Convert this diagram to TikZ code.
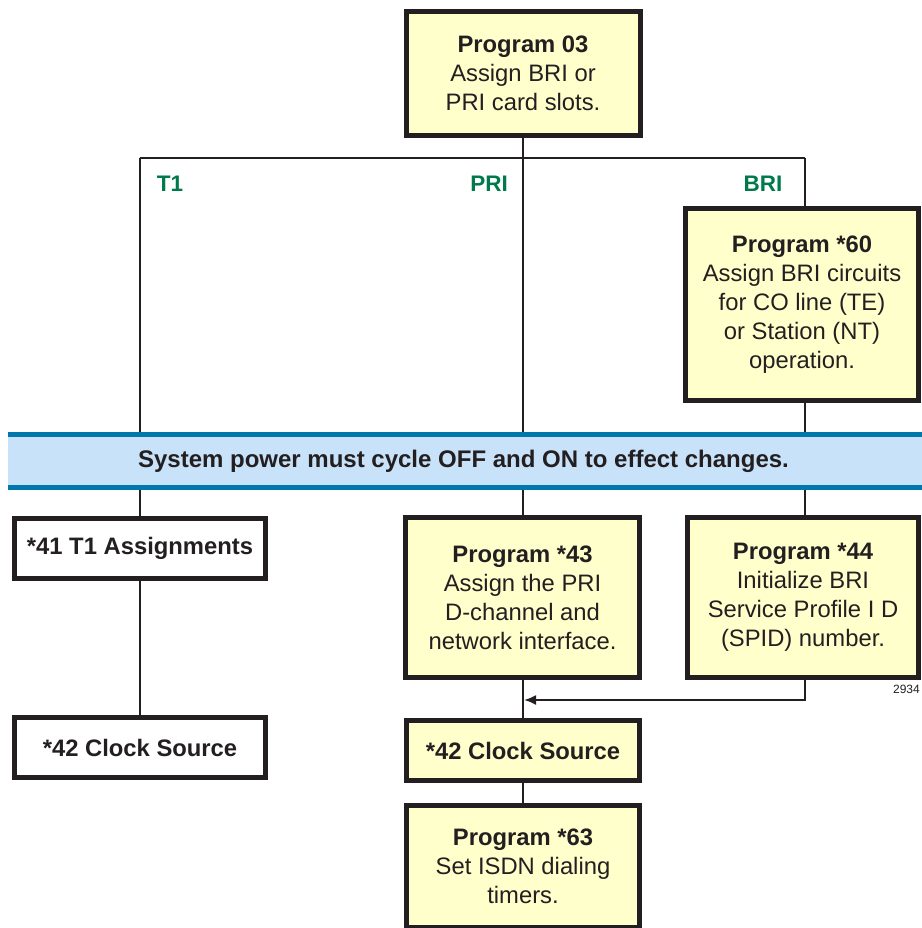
\documentclass[tikz,border=0pt]{standalone}
\usepackage{fontspec}
\setmainfont{Liberation Sans}
\usetikzlibrary{arrows.meta}
\definecolor{boxfill}{HTML}{FFFFCC}
\definecolor{ink}{HTML}{231F20}
\definecolor{lblgreen}{HTML}{007A4D}
\definecolor{bandfill}{HTML}{C8E2FA}
\definecolor{bandline}{HTML}{0078AE}
\begin{document}
\begin{tikzpicture}[x=1pt,y=-1pt,
  prog/.style={draw=ink,line width=5pt,fill=boxfill,align=center,inner sep=0pt,
    text=ink,font=\fontsize{23.8}{29}\selectfont},
  plain/.style={prog,fill=white,line width=4.5pt},
  conn/.style={draw=ink,line width=2pt},
  lbl/.style={text=lblgreen,font=\fontsize{22.5}{26}\selectfont\bfseries},
  stripe/.style={draw=bandline,line width=5pt}]
\useasboundingbox (0,0) rectangle (921,928);
% boxes
\node[prog,minimum width=234pt,minimum height=124pt] (p03) at (523,73.5)
  {\textbf{Program 03}\\Assign BRI or\\PRI card slots.};
\node[prog,minimum width=233pt,minimum height=192pt] (p60) at (802,304.5)
  {\textbf{Program *60}\\Assign BRI circuits\\for CO line (TE)\\or Station (NT)\\operation.};
\node[plain,minimum width=251pt,minimum height=60pt] (p41) at (140,548.5)
  {\textbf{*41 T1 Assignments}};
\node[plain,minimum width=251pt,minimum height=60pt] (p42l) at (140,747.5)
  {\textbf{*42 Clock Source}};
\node[prog,minimum width=234pt,minimum height=160pt] (p43) at (522.5,597.5)
  {\textbf{Program *43}\\Assign the PRI\\D-channel and\\network interface.};
\node[prog,minimum width=231pt,minimum height=160pt] (p44) at (803,597.5)
  {\textbf{Program *44}\\Initialize BRI\\Service Profile I D\\(SPID) number.};
\node[prog,minimum width=233pt,minimum height=60pt] (p42p) at (523,750.5)
  {\textbf{*42 Clock Source}};
\node[prog,minimum width=233pt,minimum height=122pt] (p63) at (523,866)
  {\textbf{Program *63}\\Set ISDN dialing\\timers.};
% band
\node[fill=bandfill,minimum width=922pt,minimum height=58pt,inner sep=0pt,
  text=ink,font=\fontsize{24}{28}\selectfont\bfseries] (band) at (469,461)
  {\hspace*{-11pt}System power must cycle OFF and ON to effect changes.};
\draw[stripe] ([yshift=-2.5pt]band.north west) -- ([yshift=-2.5pt]band.north east);
\draw[stripe] ([yshift=2.5pt]band.south west) -- ([yshift=2.5pt]band.south east);
% coordinates
\coordinate (tl) at (140,158);
\coordinate (tp) at (523,158);
\coordinate (tr) at (805,158);
\coordinate (mid) at (523,700);
\coordinate (brk) at (805,700);
% connectors
\draw[conn] (p03.south) -- (tp);
\draw[conn] (tl) -- (tr);
\draw[conn] (tl) -- (tl |- band.north);
\draw[conn] (tp) -- (tp |- band.north);
\draw[conn] (tr) -- (tr |- p60.north);
\draw[conn] (tr |- p60.south) -- (tr |- band.north);
\draw[conn] (tl |- band.south) -- (p41.north);
\draw[conn] (tp |- band.south) -- (tp |- p43.north);
\draw[conn] (tr |- band.south) -- (tr |- p44.north);
\draw[conn] (p41.south) -- (p42l.north);
\draw[conn] (tp |- p43.south) -- (p42p.north);
\draw[conn] (p42p.south) -- (p63.north);
\draw[conn,-{Latex[length=12pt,width=10pt]}] (tr |- p44.south) -- (brk) -- ([xshift=1pt]mid);
% labels
\node[lbl] (lt1) at (170,184) {T1};
\node[lbl] (lpri) at (489,184) {PRI};
\node[lbl] (lbri) at (763,184) {BRI};
\node[anchor=east,text=ink,font=\fontsize{12}{14}\selectfont,inner sep=0pt] (num) at (920,689) {2934};
\end{tikzpicture}
\end{document}
